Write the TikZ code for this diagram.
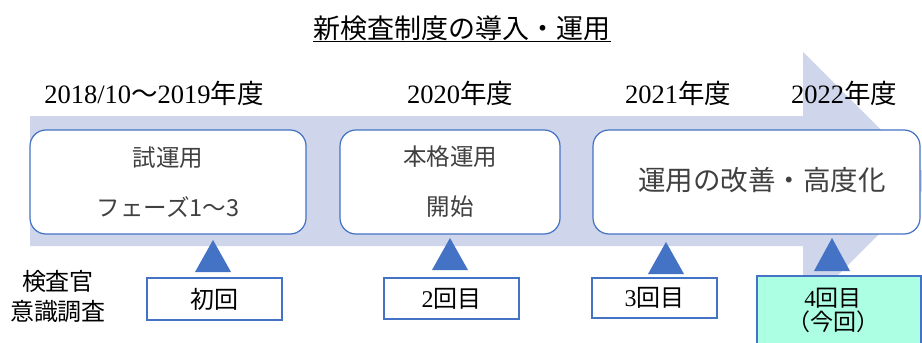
\documentclass[tikz,border=0pt]{standalone}
\usepackage{fontspec}
\setmainfont{Liberation Serif}
\newfontfamily\jp{Noto Sans CJK JP}
\definecolor{bandc}{HTML}{CFD5EA}
\definecolor{bblue}{HTML}{4472C4}
\definecolor{mint}{HTML}{ADFFE3}
\definecolor{txtgray}{HTML}{404040}
\tikzset{
  phasebox/.style={draw=bblue, line width=1.2pt, fill=white, rounded corners=16pt, inner sep=0pt, align=center, text=txtgray, font={\fontsize{23.5}{50}\selectfont\jp}},
  roundbox/.style={draw=bblue, line width=1.2pt, fill=white, inner sep=0pt, align=center, font={\fontsize{24}{26}\selectfont}},
  yearlbl/.style={inner sep=0pt, anchor=base, font={\fontsize{26.5}{30}\selectfont}},
  marker/.style={fill=bblue},
  plain/.style={inner sep=0pt, align=center}
}
\begin{document}
\begin{tikzpicture}[x=1pt,y=-1pt]
\useasboundingbox (0,0) rectangle (922,343);
\fill[white] (0,0) rectangle (922,343);
\begin{scope}
\clip (0,0) rectangle (922,343);
% big arrow band
\fill[bandc] (30,116) -- (803,116) -- (803,52) -- (932,181) -- (803,310) -- (803,246) -- (30,246) -- cycle;

% title
\node[plain, anchor=base, font={\fontsize{27}{30}\selectfont\jp}] (title) at (462,38) {新検査制度の導入・運用};
\draw[line width=0.9pt] ([yshift=-3pt]title.base west) -- ([yshift=-3pt]title.base east);

% year labels
\node[yearlbl] (y1) at (154,103) {2018/10{\jp ～}2019{\jp 年度}};
\node[yearlbl] (y2) at (460,103) {2020{\jp 年度}};
\node[yearlbl] (y3) at (678,103) {2021{\jp 年度}};
\node[yearlbl] (y4) at (844,103) {2022{\jp 年度}};

% phase boxes
\node[phasebox, minimum width=276pt, minimum height=104pt] (p1) at (168,182)
  {試運用\\フェーズ1～3};
\node[phasebox, minimum width=220pt, minimum height=104pt] (p2) at (450,182)
  {本格運用\\開始};
\node[phasebox, minimum width=327pt, minimum height=104pt] (p3) at (756.5,182) {};
\node[plain, text=txtgray, font={\fontsize{27.5}{30}\selectfont\jp}] (p3t) at (762,180) {運用の改善・高度化};

% markers
\foreach \cx/\ty/\by in {213/240/272, 450/238/270, 666/242/274, 832/238/271}{
  \fill[marker] (\cx,\ty) -- (\cx-18,\by) -- (\cx+18,\by) -- cycle;
}

% survey boxes
\node[roundbox, minimum width=135pt, minimum height=42pt] (r1) at (214.5,299)
  {\jp 初回};
\node[roundbox, minimum width=135pt, minimum height=41pt] (r2) at (451.5,298.5)
  {2{\jp 回目}};
\node[roundbox, minimum width=125pt, minimum height=40pt] (r3) at (654.5,298)
  {3{\jp 回目}};
\node[roundbox, fill=mint, minimum width=164pt, minimum height=72pt] (r4) at (839,312) {};
\node[plain, font={\fontsize{23}{24}\selectfont}] (r4t) at (833,310) {4{\jp 回目}\\{\jp （今回）}};

% left label
\node[plain, font={\fontsize{24}{30}\selectfont\jp}] (lbl) at (58,296) {検査官\\意識調査};
\end{scope}
\end{tikzpicture}
\end{document}
